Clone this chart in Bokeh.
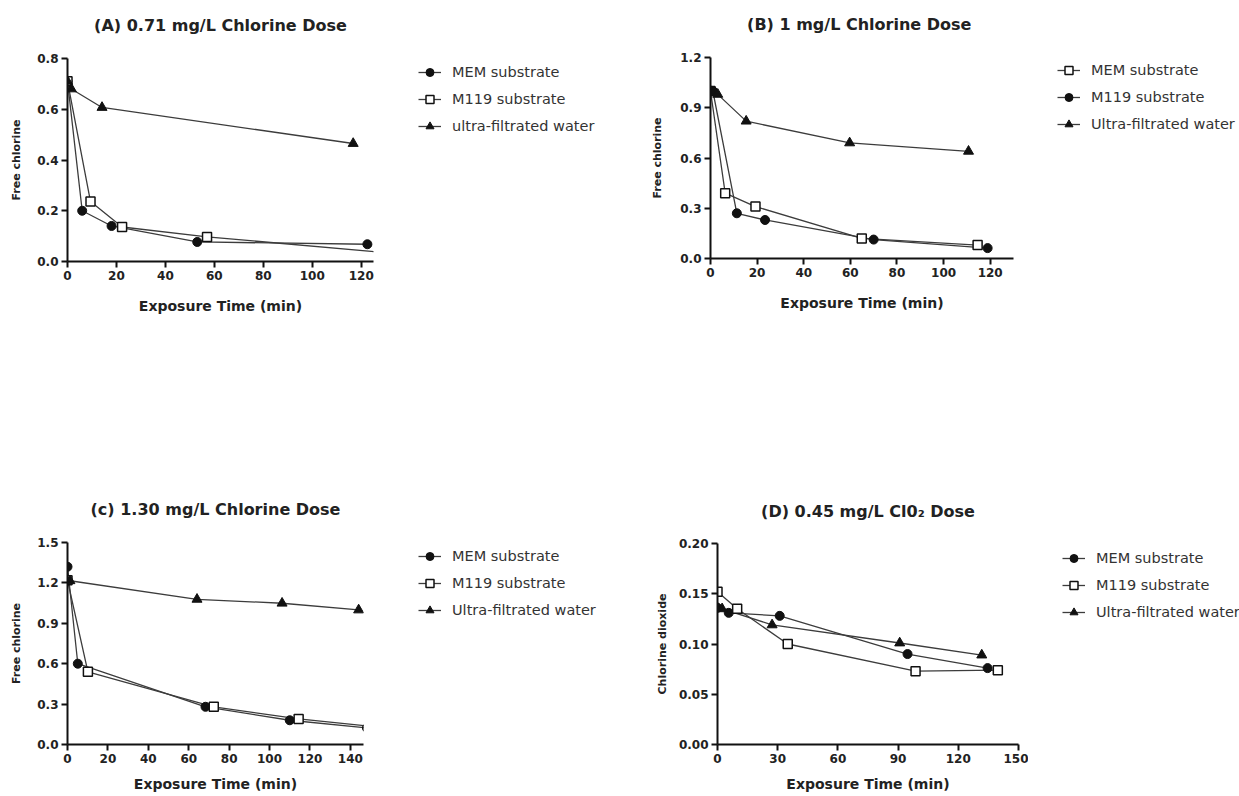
from bokeh.plotting import figure
from bokeh.layouts import column, row
from bokeh.models import Legend, LegendItem, FixedTicker, NumeralTickFormatter, Range1d
from bokeh.embed import file_html
from bokeh.resources import INLINE

# ---------------- data ----------------
# Panel A: 0.71 mg/L chlorine
A_mem_t = [0, 6, 18, 53, 122.5]
A_mem_v = [0.71, 0.20, 0.14, 0.077, 0.068]
A_m119_t = [0, 9.4, 22.3, 57, 135]
A_m119_v = [0.71, 0.236, 0.136, 0.097, 0.031]
A_uf_t = [0, 1.6, 14.1, 116.7]
A_uf_v = [0.71, 0.68, 0.607, 0.465]

# Panel B: 1 mg/L chlorine
B_mem_t = [0, 6.3, 19.3, 64.9, 114.6]
B_mem_v = [1.0, 0.39, 0.31, 0.12, 0.08]
B_m119_t = [1, 11.3, 23.4, 70, 118.9]
B_m119_v = [1.0, 0.27, 0.23, 0.113, 0.062]
B_uf_t = [0, 3.1, 15.3, 59.7, 110.7]
B_uf_v = [1.0, 0.98, 0.82, 0.69, 0.64]

# Panel C: 1.30 mg/L chlorine
C_mem_t = [0, 5.1, 68.3, 110, 148.2]
C_mem_v = [1.32, 0.60, 0.28, 0.18, 0.123]
C_m119_t = [0, 10.1, 72.4, 114.4, 150]
C_m119_v = [1.22, 0.54, 0.28, 0.19, 0.135]
C_uf_t = [1.2, 64.1, 106.2, 144.1]
C_uf_v = [1.216, 1.078, 1.049, 0.999]

# Panel D: 0.45 mg/L ClO2
D_mem_t = [0, 5.6, 31, 94.7, 134.6]
D_mem_v = [0.136, 0.131, 0.128, 0.090, 0.076]
D_m119_t = [0, 9.8, 35, 98.7, 139.7]
D_m119_v = [0.152, 0.135, 0.100, 0.073, 0.074]
D_uf_t = [0, 2.3, 27.2, 90.8, 131.7]
D_uf_v = [0.136, 0.135, 0.119, 0.101, 0.089]

FONT = "DejaVu Sans"
LINE_COL = "#3c3c3c"


def style_marker(p, t, v, marker):
    if marker == "square":
        return p.scatter(t, v, marker="square", size=9, fill_color="white",
                         line_color="#111111", line_width=1.5)
    if marker == "triangle":
        return p.scatter(t, v, marker="triangle", size=10, fill_color="#111111",
                         line_color="#111111", line_width=1)
    return p.scatter(t, v, marker="circle", size=9, fill_color="#111111",
                     line_color="#111111", line_width=1)


def panel(title, xmax, ymax, xticks, yticks, yfmt, ylabel, series,
          width, height, borders, title_pad, xlab_standoff, ylab_standoff,
          leg_width, leg_left, leg_top):
    left, right, top, bottom = borders
    p = figure(width=width, height=height, output_backend="svg", toolbar_location=None,
               x_range=Range1d(0, xmax), y_range=Range1d(0, ymax),
               min_border_left=left, min_border_right=right,
               min_border_top=top, min_border_bottom=bottom)
    p.outline_line_color = None
    p.xgrid.visible = False
    p.ygrid.visible = False
    p.background_fill_color = "white"
    p.border_fill_color = "white"

    p.title.text = title
    p.title.text_font = FONT
    p.title.text_font_style = "bold"
    p.title.text_font_size = "16px"
    p.title.text_color = "#222222"
    p.title.align = "center"
    try:
        p.title.padding = dict(left=0, right=0, top=0, bottom=title_pad)
        p.title.standoff = 8
    except Exception:
        p.title.standoff = 36

    for ax in (p.xaxis[0], p.yaxis[0]):
        ax.axis_line_width = 2
        ax.axis_line_color = "#111111"
        ax.major_tick_line_width = 2
        ax.major_tick_line_color = "#111111"
        ax.major_tick_out = 6
        ax.major_tick_in = 0
        ax.minor_tick_out = 0
        ax.minor_tick_in = 0
        ax.major_label_text_font = FONT
        ax.major_label_text_font_style = "bold"
        ax.major_label_text_font_size = "12px"
        ax.major_label_text_color = "#222222"
        ax.major_label_standoff = 3
        ax.axis_label_text_font = FONT
        ax.axis_label_text_font_style = "bold"
        ax.axis_label_text_color = "#222222"

    p.xaxis[0].ticker = FixedTicker(ticks=xticks)
    p.yaxis[0].ticker = FixedTicker(ticks=yticks)
    p.xaxis[0].formatter = NumeralTickFormatter(format="0")
    p.yaxis[0].formatter = NumeralTickFormatter(format=yfmt)
    p.xaxis[0].axis_label = "Exposure Time (min)"
    p.xaxis[0].axis_label_text_font_size = "14px"
    p.xaxis[0].axis_label_standoff = xlab_standoff
    p.yaxis[0].axis_label = ylabel
    p.yaxis[0].axis_label_text_font_size = "11px"
    p.yaxis[0].axis_label_standoff = ylab_standoff

    for (label, t, v, marker) in series:
        p.line(t, v, line_color=LINE_COL, line_width=1.3)
    for (label, t, v, marker) in series:
        style_marker(p, t, v, marker)

    # legend lives in its own blank figure next to the plot; the series are drawn
    # there too, but outside its visible range, so that only the legend shows.
    # Its top/bottom borders equal the plot's, so the row keeps the plot frame in place.
    m = leg_top - top
    lf = figure(width=leg_width, height=height, output_backend="svg", toolbar_location=None,
                x_range=Range1d(-1000, -999), y_range=Range1d(-1000, -999),
                x_axis_location=None, y_axis_location=None,
                min_border_left=leg_left - m, min_border_right=0,
                min_border_top=top, min_border_bottom=bottom)
    lf.outline_line_color = None
    lf.xgrid.visible = False
    lf.ygrid.visible = False
    lf.background_fill_color = "white"
    lf.border_fill_color = "white"
    items = []
    for (label, t, v, marker) in series:
        lr = lf.line(t, v, line_color=LINE_COL, line_width=1.3)
        sr = style_marker(lf, t, v, marker)
        items.append(LegendItem(label=label, renderers=[lr, sr]))
    leg = Legend(items=items, location="top_left")
    leg.border_line_color = None
    leg.background_fill_alpha = 0
    leg.padding = 0
    leg.margin = m
    leg.spacing = 7
    leg.label_height = 20
    leg.glyph_height = 20
    leg.glyph_width = 23
    leg.label_standoff = 11
    leg.label_text_font = FONT
    leg.label_text_font_size = "14.5px"
    leg.label_text_color = "#333333"
    lf.add_layout(leg)
    return row(p, lf)


pa = panel("(A) 0.71 mg/L Chlorine Dose", 125, 0.8,
           [0, 20, 40, 60, 80, 100, 120], [0, 0.2, 0.4, 0.6, 0.8], "0.0", "Free chlorine",
           [("MEM substrate", A_mem_t, A_mem_v, "circle"),
            ("M119 substrate", A_m119_t, A_m119_v, "square"),
            ("ultra-filtrated water", A_uf_t, A_uf_v, "triangle")],
           383, 488, (67, 10, 58, 227), 20, 15, 11, 245, 35, 62)

pb = panel("(B) 1 mg/L  Chlorine Dose", 130, 1.2,
           [0, 20, 40, 60, 80, 100, 120], [0, 0.3, 0.6, 0.9, 1.2], "0.0", "Free chlorine",
           [("MEM substrate", B_mem_t, B_mem_v, "square"),
            ("M119 substrate", B_m119_t, B_m119_v, "circle"),
            ("Ultra-filtrated water", B_uf_t, B_uf_v, "triangle")],
           395, 488, (82, 10, 57, 230), 20, 15, 13, 215, 34, 60)

pc = panel("(c) 1.30 mg/L Chlorine Dose", 146.5, 1.5,
           [0, 20, 40, 60, 80, 100, 120, 140], [0, 0.3, 0.6, 0.9, 1.2, 1.5], "0.0", "Free chlorine",
           [("MEM substrate", C_mem_t, C_mem_v, "circle"),
            ("M119 substrate", C_m119_t, C_m119_v, "square"),
            ("Ultra-filtrated water", C_uf_t, C_uf_v, "triangle")],
           373, 306, (67, 10, 54, 49), 20, 10, 11, 255, 45, 58)

pd_ = panel("(D) 0.45 mg/L Cl0\u2082 Dose", 150, 0.2,
            [0, 30, 60, 90, 120, 150], [0, 0.05, 0.10, 0.15, 0.20], "0.00", "Chlorine dioxide",
            [("MEM substrate", D_mem_t, D_mem_v, "circle"),
             ("M119 substrate", D_m119_t, D_m119_v, "square"),
             ("Ultra-filtrated water", D_uf_t, D_uf_v, "triangle")],
            400, 306, (89, 10, 55, 49), 19, 10, 7, 211, 34, 60)

layout = column(row(pa, pb), row(pc, pd_))
open("out.html", "w").write(file_html(layout, INLINE))
